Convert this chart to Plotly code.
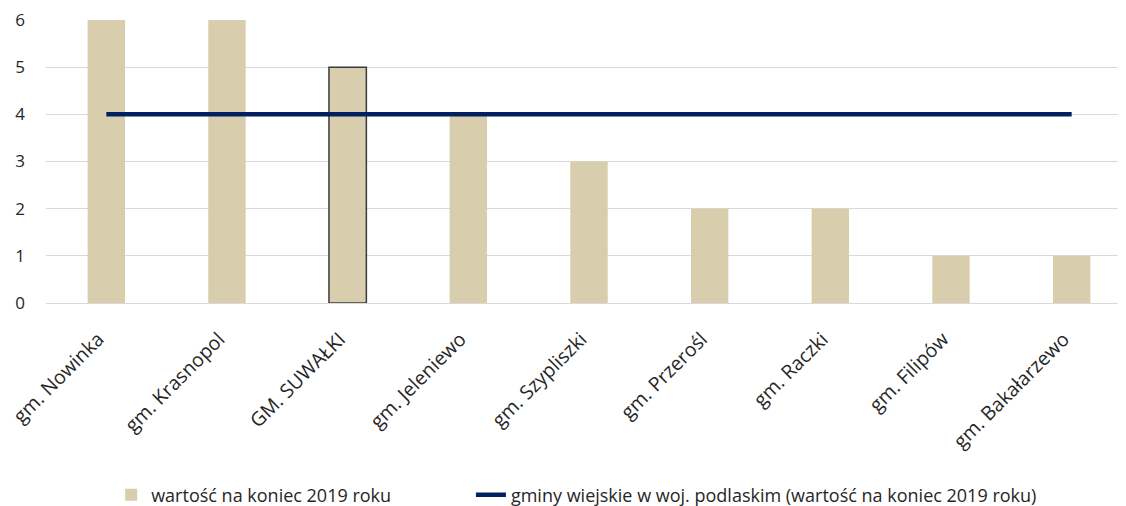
import plotly.graph_objects as go

categories = ["gm. Nowinka", "gm. Krasnopol", "GM. SUWAŁKI", "gm. Jeleniewo", "gm. Szypliszki",
              "gm. Przerośl", "gm. Raczki", "gm. Filipów", "gm. Bakałarzewo"]
values = [6, 6, 5, 4, 3, 2, 2, 1, 1]
avg_values = [4, 4, 4, 4, 4, 4, 4, 4, 4]

bar_name = "wartość na koniec 2019 roku"
line_name = "gminy wiejskie w woj. podlaskim (wartość na koniec 2019 roku)"

highlight = "GM. SUWAŁKI"
line_colors = ["#3a3a3a" if c == highlight else "rgba(0,0,0,0)" for c in categories]
line_widths = [1.5 if c == highlight else 0 for c in categories]

fig = go.Figure()
fig.add_trace(go.Bar(
    x=categories, y=values, name=bar_name + "\u00a0" * 16,
    marker=dict(color="#D8CDAC", line=dict(color=line_colors, width=line_widths)),
    width=0.31,
))
fig.add_trace(go.Scatter(
    x=categories, y=avg_values, name=line_name, mode="lines",
    line=dict(color="#002060", width=4.5),
))

font_family = "Open Sans, Noto Sans, sans-serif"
fig.update_layout(
    width=1126, height=506,
    margin=dict(l=38, r=2, t=12, b=210),
    plot_bgcolor="white", paper_bgcolor="white",
    font=dict(family=font_family, size=18, color="#262626"),
    showlegend=True,
    legend=dict(orientation="h", x=0.060, xanchor="left", y=-0.6725, yanchor="middle",
                font=dict(size=18, color="#262626"), tracegroupgap=0),
    bargap=0.69,
)
fig.update_xaxes(tickangle=-45, showgrid=False, showline=False, ticks="", automargin=False,
                 tickfont=dict(size=19.5, color="#262626"),
                 ticklabelstandoff=20, ticklabelshift=-8)
fig.update_yaxes(range=[0, 6], dtick=1, showgrid=True, gridcolor="#D9D9D9", gridwidth=1,
                 zeroline=True, zerolinecolor="#D9D9D9", zerolinewidth=1, automargin=False,
                 showline=False, ticks="", tickfont=dict(size=17, color="#262626"),
                 ticklabelstandoff=20, ticklabeloverflow="allow")

fig.write_html("out.html")
